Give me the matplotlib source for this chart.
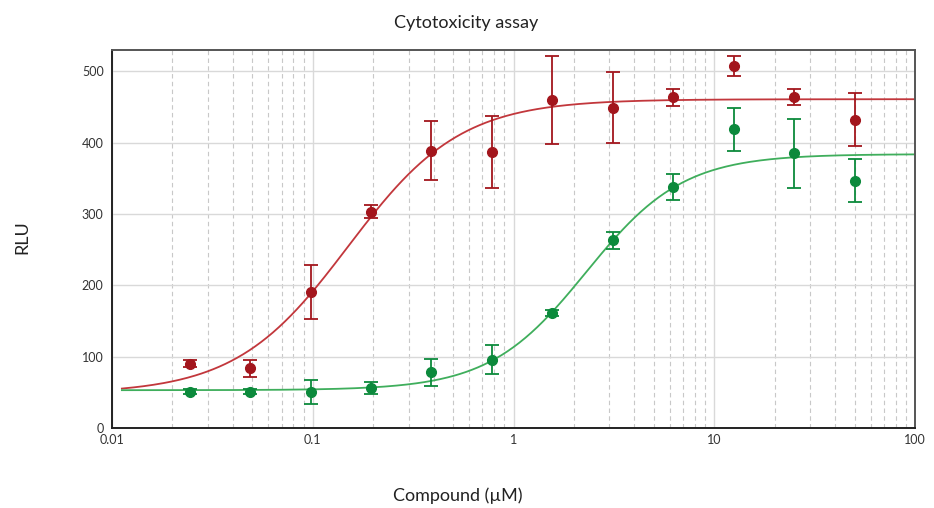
import numpy as np
import matplotlib.pyplot as plt
from matplotlib.ticker import LogLocator, FixedLocator, NullFormatter

# --- data (two-fold dilution series) ---
conc = [0.0244, 0.0488, 0.0977, 0.195, 0.39, 0.78, 1.5625, 3.125, 6.25, 12.5, 25, 50]

red_mean = [90, 84, 191, 303, 389, 387, 460, 449, 464, 507, 464, 432]
red_err = [5, 12, 38, 9, 41, 50, 62, 50, 12, 14, 11, 37]

green_mean = [51, 51, 50, 56, 78, 96, 161, 263, 338, 419, 385, 347]
green_err = [3, 3, 17, 9, 19, 20, 4, 12, 18, 30, 48, 30]

# 4PL fit parameters: bottom, top, EC50, hill
red_fit = [48, 461, 0.15, 1.55]
green_fit = [53, 384, 2.3, 1.8]

title = "Cytotoxicity assay"
xlabel = "Compound (\u00b5M)"
ylabel = "RLU"
xticks = [0.01, 0.1, 1, 10, 100]
yticks = [0, 100, 200, 300, 400, 500]

RED = "#a3161d"
RED_LINE = "#c2373c"
GREEN = "#0c8a3c"
GREEN_LINE = "#3fae5c"


def four_pl(x, bottom, top, ec50, hill):
    return bottom + (top - bottom) / (1 + (ec50 / x) ** hill)


plt.rcParams['font.family'] = ['Lato', 'DejaVu Sans']

fig = plt.figure(figsize=(9.34, 5.08), dpi=100)
ax = fig.add_axes([0.1199, 0.1575, 0.8598, 0.7441])

ax.set_xscale('log')
ax.set_xlim(0.01, 100)
ax.set_ylim(0, 530)

# grid
ax.xaxis.set_major_locator(FixedLocator(xticks))
ax.xaxis.set_minor_locator(LogLocator(base=10, subs=np.arange(2, 10)))
ax.xaxis.set_minor_formatter(NullFormatter())
ax.yaxis.set_major_locator(FixedLocator(yticks))
ax.grid(which='major', axis='both', color='#d9d9d9', linewidth=1.0, zorder=0)
ax.grid(which='minor', axis='x', color='#c8c8c8', linewidth=0.8, linestyle=(0, (4, 3)), zorder=0)
ax.set_axisbelow(True)

# fitted curves
xs = np.logspace(np.log10(0.0112), 2, 400)
ax.plot(xs, four_pl(xs, *red_fit), color=RED_LINE, linewidth=1.3, zorder=2)
ax.plot(xs, four_pl(xs, *green_fit), color=GREEN_LINE, linewidth=1.3, zorder=2)

# data points with error bars
ax.errorbar(conc, green_mean, yerr=green_err, fmt='o', color=GREEN, markersize=7,
            elinewidth=1.3, capsize=5, capthick=1.3, zorder=3)
ax.errorbar(conc, red_mean, yerr=red_err, fmt='o', color=RED, markersize=7,
            elinewidth=1.3, capsize=5, capthick=1.3, zorder=4)

ax.set_xticklabels(['0.01', '0.1', '1', '10', '100'])
ax.tick_params(axis='both', which='both', length=0, labelsize=9, colors='#333333')
ax.tick_params(axis='x', pad=4)
ax.tick_params(axis='y', pad=6)

for side in ['left', 'bottom']:
    ax.spines[side].set_color('#222222')
    ax.spines[side].set_linewidth(1.4)
for side in ['top', 'right']:
    ax.spines[side].set_color('#555555')
    ax.spines[side].set_linewidth(1.4)

fig.text(0.499, 0.955, title, ha='center', va='center', fontsize=13, color='#222222')
fig.text(0.49, 0.025, xlabel, ha='center', va='center', fontsize=13, color='#222222')
fig.text(0.024, 0.533, ylabel, ha='center', va='center', rotation=90, fontsize=13, color='#222222')

fig.savefig('out.png', dpi=100)
